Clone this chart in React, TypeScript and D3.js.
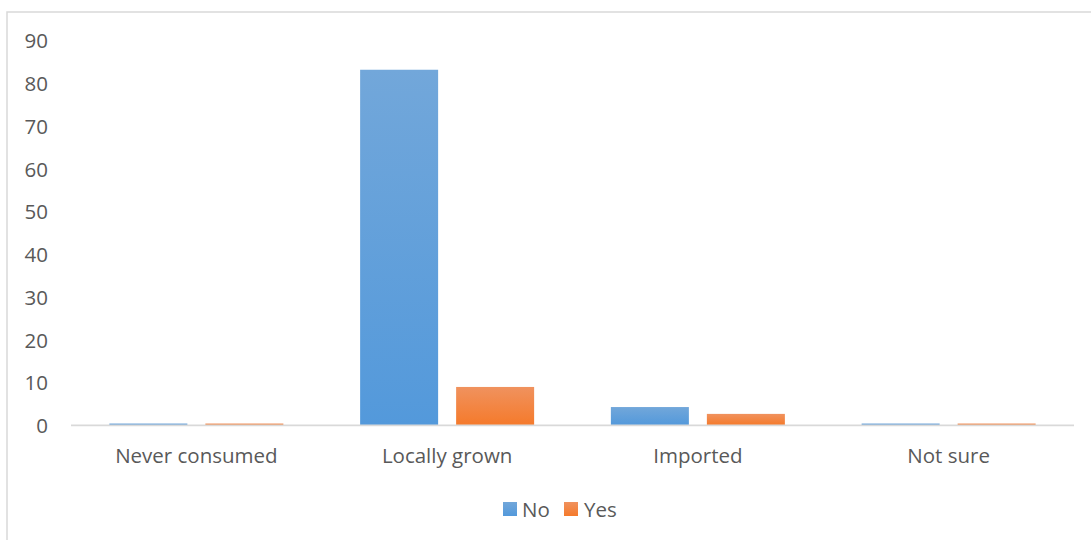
import React from "react";
import * as d3 from "d3";

const categories = ["Never consumed", "Locally grown", "Imported", "Not sure"];
const seriesNames = ["No", "Yes"];
const noValues = [0.35, 83.1, 4.2, 0.35];
const yesValues = [0.35, 8.9, 2.6, 0.35];
const yTicks = [0, 10, 20, 30, 40, 50, 60, 70, 80, 90];

const W = 1091;
const H = 540;
const FONT = "'Open Sans', sans-serif";
const TEXT = "#595959";

export default function App() {
  const x0 = d3.scaleBand<string>().domain(categories).range([71, 1074]).paddingInner(0).paddingOuter(0);
  const outer = (x0.bandwidth() - 174) / 2;
  const x1 = d3
    .scaleBand<string>()
    .domain(seriesNames)
    .range([outer, outer + 174])
    .paddingInner(0.1875)
    .paddingOuter(0);
  const y = d3.scaleLinear().domain([0, 90]).range([425, 40.25]);
  const values: Record<string, number[]> = { No: noValues, Yes: yesValues };
  const fills: Record<string, string> = { No: "url(#gNo)", Yes: "url(#gYes)" };

  return (
    <svg
      width={W}
      height={H}
      style={{ position: "absolute", left: 0, top: 0, background: "#fff" }}
      fontFamily={FONT}
    >
      <defs>
        <linearGradient id="gNo" x1="0" y1="0" x2="0" y2="1">
          <stop offset="0" stopColor="#72a7da" />
          <stop offset="1" stopColor="#5399db" />
        </linearGradient>
        <linearGradient id="gYes" x1="0" y1="0" x2="0" y2="1">
          <stop offset="0" stopColor="#f0925e" />
          <stop offset="1" stopColor="#f57a2b" />
        </linearGradient>
      </defs>
      <rect x={7} y={12} width={W + 20} height={H + 20} fill="#fff" stroke="#d9d9d9" strokeWidth={1.5} />
      {yTicks.map((t) => (
        <text
          key={t}
          x={48}
          y={y(t)}
          textAnchor="end"
          dominantBaseline="central"
          fontSize={20.5}
          fill={TEXT}
        >
          {t}
        </text>
      ))}
      {categories.map((c, i) => (
        <g key={c} transform={`translate(${x0(c)},0)`}>
          {seriesNames.map((s) => {
            const v = values[s][i];
            return (
              <rect
                key={s}
                x={x1(s)}
                y={y(v)}
                width={x1.bandwidth()}
                height={y(0) - y(v)}
                fill={fills[s]}
              />
            );
          })}
          <text
            x={x0.bandwidth() / 2}
            y={463}
            textAnchor="middle"
            fontSize={20.5}
            fill={TEXT}
          >
            {c}
          </text>
        </g>
      ))}
      <line x1={71} x2={1074} y1={425.3} y2={425.3} stroke="#d9d9d9" strokeWidth={1.8} />
      <rect x={503} y={502} width={14} height={14} fill="url(#gNo)" />
      <text x={522} y={516.5} fontSize={20.5} fill={TEXT}>
        {seriesNames[0]}
      </text>
      <rect x={564} y={502} width={14} height={14} fill="url(#gYes)" />
      <text x={584} y={516.5} fontSize={20.5} fill={TEXT}>
        {seriesNames[1]}
      </text>
    </svg>
  );
}
